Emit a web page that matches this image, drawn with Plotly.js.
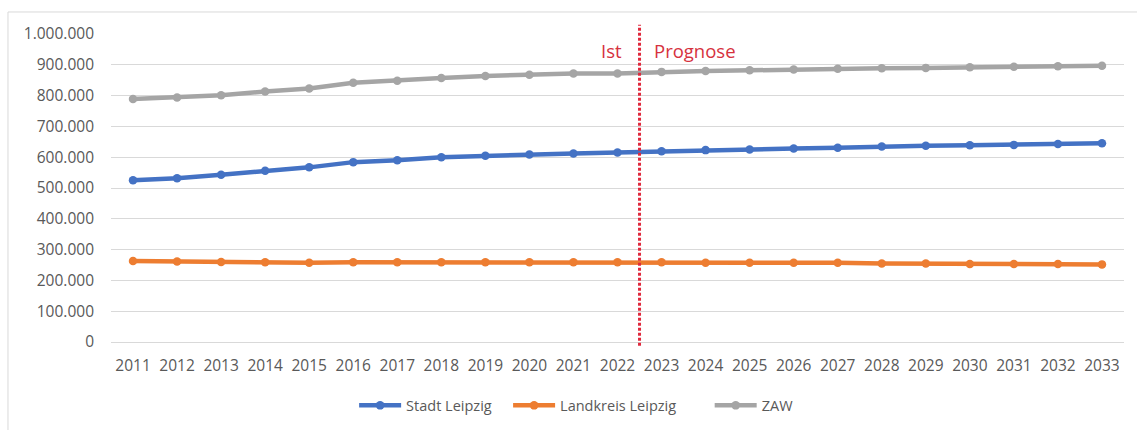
<!DOCTYPE html>
<html>
<head>
<meta charset="utf-8">
<script src="https://cdn.plot.ly/plotly-3.0.1.min.js"></script>
<style>
html,body{margin:0;padding:0;background:#fff;}
#chart{width:1137px;height:430px;}
</style>
</head>
<body>
<div id="chart"></div>
<script>
const years = ["2011","2012","2013","2014","2015","2016","2017","2018","2019","2020","2021","2022",
               "2023","2024","2025","2026","2027","2028","2029","2030","2031","2032","2033"];
const stadtLeipzig = [525000,532000,543000,556000,567000,584000,590000,600000,605000,609000,612000,615000,
                      619000,623000,625000,628000,631000,635000,637000,639000,640000,643000,645000];
const landkreisLeipzig = [263000,261000,260000,259000,257000,259000,259000,259000,259000,259000,259000,259000,
                          259000,257000,257000,257000,257000,255000,255000,253000,253000,253000,252000];
const zaw = [789000,794000,801000,813000,823000,842000,848000,857000,864000,868000,872000,872000,
             877000,880000,882000,885000,887000,889000,890000,892000,894000,895000,897000];
const seriesNames = ["Stadt Leipzig","Landkreis Leipzig","ZAW"];
const seriesColors = ["#4472C4","#ED7D31","#A5A5A5"];
const yTickVals = [0,100000,200000,300000,400000,500000,600000,700000,800000,900000,1000000];
const splitLabels = ["Ist","Prognose"];

const font = "Open Sans, Noto Sans, sans-serif";
const legendIds = ["legend","legend2","legend3"];
const mk = (y, i) => ({
  x: years, y: y, type: "scatter", mode: "lines+markers", name: seriesNames[i],
  legend: legendIds[i],
  line: {color: seriesColors[i], width: 4.5},
  marker: {color: seriesColors[i], size: 8.5}
});
const data = [mk(stadtLeipzig,0), mk(landkreisLeipzig,1), mk(zaw,2)];

const legendBase = (x) => ({orientation: "h", x: x, xanchor: "left", y: -0.206, yanchor: "middle",
  itemwidth: 42, bgcolor: "rgba(0,0,0,0)",
  font: {family: font, size: 14.5, color: "#595959"}});

const splitIndex = years.indexOf("2022") + 0.5;
const layout = {
  width: 1137, height: 430,
  margin: {l: 111, r: 13, t: 34, b: 88, autoexpand: false},
  paper_bgcolor: "#fff", plot_bgcolor: "#fff",
  separators: ",.",
  font: {family: font, size: 16, color: "#595959"},
  showlegend: true,
  legend: legendBase(0.240),
  legend2: legendBase(0.392),
  legend3: legendBase(0.591),
  xaxis: {type: "category", range: [-0.5, years.length - 0.5], showgrid: false, zeroline: false,
          showline: false, ticks: "", ticklabelstandoff: 12, tickangle: 0,
          tickfont: {family: font, size: 15.5, color: "#595959"}, fixedrange: true},
  yaxis: {range: [0, 1000000], tickvals: yTickVals, tickformat: ",d", showgrid: true,
          gridcolor: "#d9d9d9", gridwidth: 1, zeroline: true, zerolinecolor: "#d9d9d9",
          zerolinewidth: 1, showline: false, ticks: "", ticklabelstandoff: 16,
          tickfont: {family: font, size: 15.5, color: "#595959"}, fixedrange: true},
  shapes: [
    {type: "line", xref: "x", yref: "paper", x0: splitIndex, x1: splitIndex, y0: -0.012, y1: 1.03,
     line: {color: "#e0283c", width: 3, dash: "3px,2px"}},
    {type: "line", xref: "paper", yref: "paper", x0: -0.1017, x1: 1.02, y0: 1.0715, y1: 1.0715,
     line: {color: "#d9d9d9", width: 1}},
    {type: "line", xref: "paper", yref: "paper", x0: -0.1017, x1: -0.1017, y0: 1.0715, y1: -0.35,
     line: {color: "#d9d9d9", width: 1}}
  ],
  annotations: [
    {xref: "x", yref: "paper", x: splitIndex, y: 0.948, text: splitLabels[0], showarrow: false,
     xanchor: "right", xshift: -16, yanchor: "middle", font: {family: font, size: 18.5, color: "#d6323e"}},
    {xref: "x", yref: "paper", x: splitIndex, y: 0.948, text: splitLabels[1], showarrow: false,
     xanchor: "left", xshift: 12, yanchor: "middle", font: {family: font, size: 18.5, color: "#d6323e"}}
  ]
};
Plotly.newPlot("chart", data, layout, {displayModeBar: false, staticPlot: true});
</script>
</body>
</html>
